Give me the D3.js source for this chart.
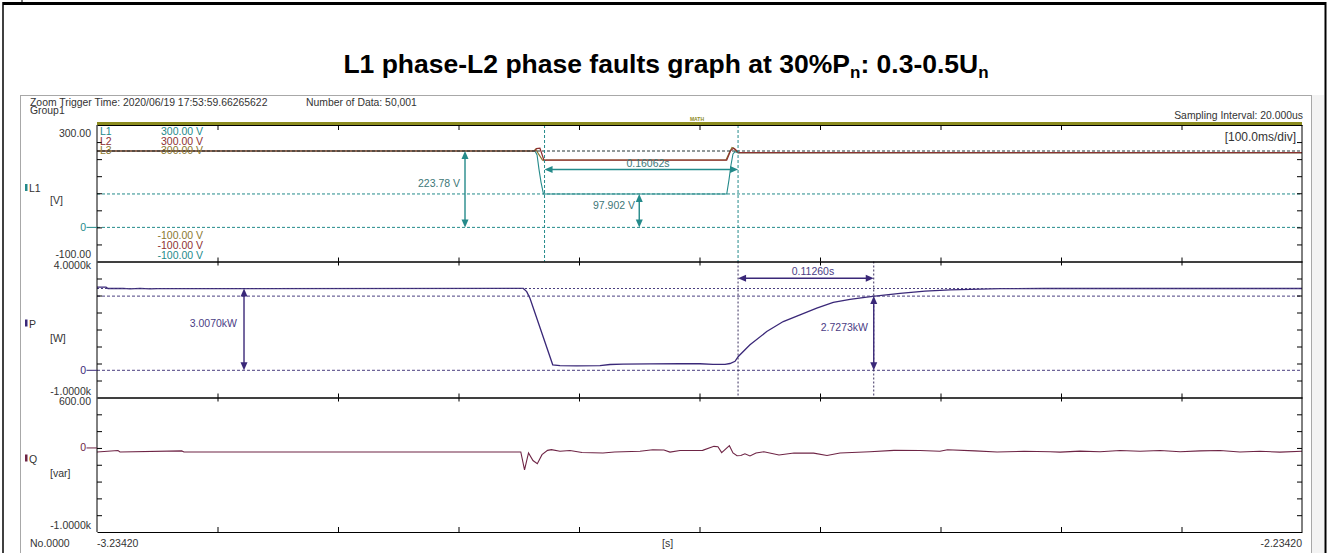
<!DOCTYPE html>
<html><head><meta charset="utf-8">
<script src="https://cdn.jsdelivr.net/npm/d3@7"></script>
<style>
body{margin:0;background:#fff}
svg{display:block}
text{font-family:"Liberation Sans",Arial,sans-serif}
</style>
</head><body>
<svg id="c" width="1329" height="553"></svg>
<script>
// ---------------- data ----------------
const timeRange = [-3.23420, -2.23420];
const xDivTicks = [-3.2342,-3.1342,-3.0342,-2.9342,-2.8342,-2.7342,-2.6342,-2.5342,-2.4342,-2.3342,-2.2342];
const xTickLabels = ["-3.23420", "[s]", "-2.23420"];

const vDomain = [-100, 300];
const pDomain = [-1000, 4000];
const qDomain = [-1000, 600];
const vDivTicks = [-50, 0, 50, 100, 150, 200, 250];
const pDivTicks = [-375, 250, 875, 1500, 2125, 2750, 3375];
const qDivTicks = [-800, -600, -400, -200, 0, 200, 400];
const vLabels = ["300.00", "0", "-100.00"];
const pLabels = ["4.0000k", "0", "-1.0000k"];
const qLabels = ["600.00", "0", "-1.0000k"];

// L1 / L2 / L3 RMS voltage [V]
const l1Time = [-3.2342,-2.8707,-2.8690,-2.8674,-2.8657,-2.8637,-2.7116,-2.7097,-2.7081,-2.7064,-2.7047,-2.7022,-2.2342];
const l1Volt = [223.8,223.8,212,170,132,97.9,97.9,140,182,215,222,219,219];
const l2Time = [-3.2342,-2.8707,-2.8695,-2.8666,-2.8632,-2.8616,-2.7116,-2.7085,-2.7061,-2.7043,-2.7022,-2.2342];
const l2Volt = [223.8,223.8,231,232,196,197,197,224,232,228,219,219];
const l3Time = [-3.2342,-2.8715,-2.8703,-2.8645,-2.8616,-2.7122,-2.7093,-2.7072,-2.7056,-2.7039,-2.7022,-2.2342];
const l3Volt = [223.8,223.8,229,197,197.5,197.5,220,234,232,224,219,219];

// active power P [W]
const pTime = [-3.2342,-3.2267,-3.2251,-3.2126,-3.2068,-3.1985,-3.1902,-3.1844,-2.8804,-2.8776,-2.8749,-2.8560,-2.8500,-2.8361,-2.8168,-2.8085,-2.7977,-2.7753,-2.7504,-2.7338,-2.7230,-2.7130,-2.7089,-2.7047,-2.7020,-2.6923,-2.6784,-2.6647,-2.6508,-2.6369,-2.6232,-2.6093,-2.5954,-2.5886,-2.5678,-2.5471,-2.5263,-2.4848,-2.4475,-2.2342];
const pWatt = [3060,3060,3007,3012,2995,3015,2995,3005,3010,2893,2651,202,170,165,175,213,230,235,240,240,215,220,250,330,510,936,1424,1792,2037,2283,2500,2610,2690,2727,2830,2910,2960,3000,3007,3007];

// reactive power Q [var]
const qTime = [-3.2342,-3.2168,-3.2151,-3.1639,-3.1620,-2.8825,-2.8794,-2.8761,-2.8724,-2.8688,-2.8649,-2.8603,-2.8571,-2.8500,-2.8417,-2.8317,-2.8143,-2.8047,-2.7836,-2.7730,-2.7637,-2.7587,-2.7504,-2.7316,-2.7222,-2.7189,-2.7158,-2.7094,-2.7064,-2.7031,-2.6999,-2.6965,-2.6923,-2.6873,-2.6808,-2.6682,-2.6558,-2.6395,-2.6284,-2.6176,-2.5927,-2.5728,-2.5512,-2.5346,-2.5284,-2.5056,-2.4873,-2.4649,-2.4433,-2.4350,-2.4184,-2.4018,-2.3852,-2.3686,-2.3520,-2.3354,-2.3188,-2.3022,-2.2857,-2.2691,-2.2525,-2.2342];
const qVar = [-48,-30,-48,-35,-48,-48,-260,-60,-150,-188,-80,-29,-20,-40,-30,-55,-60,-48,-40,-21,-25,-50,-30,-29,19,15,-55,27,-60,-93,-90,-70,-95,-60,-45,-84,-60,-62,-90,-60,-45,-29,-30,-40,-21,-35,-48,-40,-45,-50,-38,-45,-30,-40,-30,-45,-35,-30,-48,-40,-50,-40];

// cursors
const vCursorLevels = [223.78, 97.902, 0];
const vCursorTimes = [-2.8628, -2.7022];
const pCursorLevels = [3007, 2727.3, 0];
const pCursorTimes = [-2.7022, -2.5896];

// ---------------- drawing ----------------
const svg = d3.select("#c");
const plotL = 97, plotR = 1302;
const teal = "#248a8a", l2c = "#8e3030", l3c = "#8a7830", pc = "#3a2878", qc = "#6e2445", olive = "#8b8b1e";
const txt = "#333";

const x = d3.scaleLinear().domain(timeRange).range([plotL, plotR]);
const yV = d3.scaleLinear().domain(vDomain).range([261.5, 125]);
const yP = d3.scaleLinear().domain(pDomain).range([397.5, 261.5]);
const yQ = d3.scaleLinear().domain(qDomain).range([532, 397.5]);

// outer frame
svg.append("rect").attr("x",0).attr("y",0).attr("width",1329).attr("height",553).attr("fill","#fff");
svg.append("rect").attr("x",1312).attr("y",95).attr("width",12).attr("height",460).attr("fill","#f3f3f3");
svg.append("line").attr("x1",3).attr("x2",1326).attr("y1",3.5).attr("y2",3.5).attr("stroke","#000").attr("stroke-width",3);
svg.append("line").attr("x1",3).attr("x2",3).attr("y1",2).attr("y2",553).attr("stroke","#000").attr("stroke-width",1.5);
svg.append("line").attr("x1",1325.5).attr("x2",1325.5).attr("y1",2).attr("y2",553).attr("stroke","#000").attr("stroke-width",2);
svg.append("line").attr("x1",22).attr("x2",22).attr("y1",0).attr("y2",2).attr("stroke","#000");
// chart window border
svg.append("rect").attr("x",20.5).attr("y",95.5).attr("width",1291).attr("height",470).attr("fill","none").attr("stroke","#a8a8a8");

// title
const title = svg.append("text").attr("x",666).attr("y",73).attr("text-anchor","middle")
  .attr("font-size",26.5).attr("font-weight","bold").attr("fill","#000");
title.append("tspan").text("L1 phase-L2 phase faults graph at 30%P");
title.append("tspan").attr("font-size",17).attr("dy",5).text("n");
title.append("tspan").attr("dy",-5).text(": 0.3-0.5U");
title.append("tspan").attr("font-size",17).attr("dy",5).text("n");

// header texts
const hdr = (t,xx,yy,anchor) => svg.append("text").attr("x",xx).attr("y",yy).attr("font-size",10.4).attr("fill",txt).attr("text-anchor",anchor||"start").text(t);
hdr("Zoom Trigger Time: 2020/06/19 17:53:59.66265622",30,105.5);
hdr("Group1",30,114);
hdr("Number of Data: 50,001",306,105.5);
hdr("Sampling Interval: 20.000us",1303,119,"end");

// olive bar
svg.append("rect").attr("x",plotL).attr("y",122).attr("width",plotR-plotL).attr("height",3).attr("fill",olive);
svg.append("text").attr("x",697).attr("y",121).attr("font-size",5).attr("font-weight","bold").attr("fill",olive).attr("text-anchor","middle").text("MATH");

// clip
svg.append("clipPath").attr("id","clip").append("rect").attr("x",plotL).attr("y",125).attr("width",plotR-plotL).attr("height",407);
const g = svg.append("g").attr("clip-path","url(#clip)");

// traces
const line = (xs, ys, yScale) => d3.line().x((d,i)=>x(xs[i])).y((d,i)=>yScale(ys[i]))(xs);
g.append("path").attr("d",line(l1Time,l1Volt,yV)).attr("fill","none").attr("stroke",teal).attr("stroke-width",1.1);
g.append("path").attr("d",line(l3Time,l3Volt,yV)).attr("fill","none").attr("stroke",l3c).attr("stroke-width",1.2);
g.append("path").attr("d",line(l2Time,l2Volt,yV)).attr("fill","none").attr("stroke",l2c).attr("stroke-width",1.2);
g.append("path").attr("d",line(pTime,pWatt,yP)).attr("fill","none").attr("stroke",pc).attr("stroke-width",1.3);
g.append("path").attr("d",line(qTime,qVar,yQ)).attr("fill","none").attr("stroke",qc).attr("stroke-width",1.1);

// horizontal cursors (drawn over traces)
const dash = "3,2";
vCursorLevels.forEach(v => g.append("line").attr("x1",plotL).attr("x2",plotR).attr("y1",yV(v)).attr("y2",yV(v))
  .attr("stroke", v===223.78 ? "#243434" : teal).attr("stroke-dasharray",dash).attr("stroke-width",1));
pCursorLevels.forEach((v,i) => g.append("line").attr("x1",plotL).attr("x2",plotR).attr("y1",yP(v)).attr("y2",yP(v))
  .attr("stroke", "#4a3f80").attr("stroke-dasharray", i===0 ? "2,2" : dash).attr("stroke-width",1));

// vertical cursors
svg.append("line").attr("x1",x(vCursorTimes[0])).attr("x2",x(vCursorTimes[0])).attr("y1",125).attr("y2",261.5).attr("stroke",teal).attr("stroke-dasharray",dash);
svg.append("line").attr("x1",x(vCursorTimes[1])).attr("x2",x(vCursorTimes[1])).attr("y1",125).attr("y2",261.5).attr("stroke",teal).attr("stroke-dasharray",dash);
pCursorTimes.forEach(t => svg.append("line").attr("x1",x(t)).attr("x2",x(t)).attr("y1",261.5).attr("y2",397.5).attr("stroke","#3a3060").attr("stroke-dasharray","2,2"));

// arrows
function arrowV(xx, y1, y2, col){
  const a = svg.append("g");
  a.append("line").attr("x1",xx).attr("x2",xx).attr("y1",y1+6).attr("y2",y2-6).attr("stroke",col).attr("stroke-width",1.4);
  a.append("path").attr("d",`M${xx},${y1}L${xx-3.5},${y1+8}L${xx+3.5},${y1+8}Z`).attr("fill",col);
  a.append("path").attr("d",`M${xx},${y2}L${xx-3.5},${y2-8}L${xx+3.5},${y2-8}Z`).attr("fill",col);
}
function arrowH(x1, x2, yy, col){
  const a = svg.append("g");
  a.append("line").attr("x1",x1+6).attr("x2",x2-6).attr("y1",yy).attr("y2",yy).attr("stroke",col).attr("stroke-width",1.4);
  a.append("path").attr("d",`M${x1},${yy}L${x1+8},${yy-3.5}L${x1+8},${yy+3.5}Z`).attr("fill",col);
  a.append("path").attr("d",`M${x2},${yy}L${x2-8},${yy-3.5}L${x2-8},${yy+3.5}Z`).attr("fill",col);
}
const ann = (t,xx,yy,col,anchor) => svg.append("text").attr("x",xx).attr("y",yy).attr("font-size",10.5).attr("fill",col).attr("text-anchor",anchor||"end").text(t);

arrowV(x(-2.9288), yV(223.78), yV(0), teal);
ann("223.78 V", 460, 186.5, "#3d7777");
arrowH(x(vCursorTimes[0]), x(vCursorTimes[1]), yV(169.6), teal);
ann("0.16062s", 648, 167, "#3d7777", "middle");
arrowV(x(-2.7842), yV(97.902), yV(0), teal);
ann("97.902 V", 635, 209, "#3d7777");

arrowV(x(-3.1122), yP(3007), yP(0), pc);
ann("3.0070kW", 237, 327, "#4b3d85");
arrowH(x(pCursorTimes[0]), x(pCursorTimes[1]), yP(3385), pc);
ann("0.11260s", 813, 275, "#4b3d85", "middle");
arrowV(x(pCursorTimes[1]), yP(2727.3), yP(0), pc);
ann("2.7273kW", 868, 330.5, "#4b3d85");

// x axes (division ticks) on panel borders
const xb = (yy, dir, size) => {
  const ax = (dir==="down" ? d3.axisBottom(x) : d3.axisTop(x)).tickValues(xDivTicks).tickFormat("").tickSizeInner(size).tickSizeOuter(0);
  const gg = svg.append("g").attr("transform",`translate(0,${yy})`).call(ax);
  gg.select(".domain").attr("stroke","#000");
  gg.selectAll(".tick line").attr("stroke","#000");
};
xb(125, "down", 5);
[261.5, 397.5].forEach(yy => { xb(yy,"down",4); xb(yy,"up",4); });
xb(532, "up", 5);
svg.selectAll(".tick").filter(d => d===timeRange[0] || d===timeRange[1]).remove();

// y axes (division ticks)
const yb = (scale, vals) => {
  const l = svg.append("g").attr("transform",`translate(${plotL},0)`).call(d3.axisRight(scale).tickValues(vals).tickFormat("").tickSizeInner(5).tickSizeOuter(0));
  const r = svg.append("g").attr("transform",`translate(${plotR},0)`).call(d3.axisLeft(scale).tickValues(vals).tickFormat("").tickSizeInner(5).tickSizeOuter(0));
  [l,r].forEach(a => { a.select(".domain").remove(); a.selectAll(".tick line").attr("stroke","#000"); });
};
yb(yV, vDivTicks); yb(yP, pDivTicks); yb(yQ, qDivTicks);
svg.append("line").attr("x1",plotL).attr("x2",plotL).attr("y1",125).attr("y2",532).attr("stroke","#000");
svg.append("line").attr("x1",plotR).attr("x2",plotR).attr("y1",125).attr("y2",532).attr("stroke","#000");

// y labels
const yl = (t,yy,col) => svg.append("text").attr("x",91).attr("y",yy).attr("font-size",10.5).attr("fill",col||txt).attr("text-anchor","end").text(t);
yl(vLabels[0], 136.5); yl(vLabels[2], 257.5);
yl(pLabels[0], 268.5); yl(pLabels[2], 395);
yl(qLabels[0], 404.5); yl(qLabels[2], 529);
const zero = (yy,col) => { yl("0", yy+3.5, col).attr("x",86);
  svg.append("line").attr("x1",86.5).attr("x2",plotL).attr("y1",yy).attr("y2",yy).attr("stroke",col); };
zero(yV(0), teal); zero(yP(0), pc); zero(yQ(0), qc);

// channel names
const ch = (name, unit, yy, col) => {
  svg.append("rect").attr("x",25).attr("y",yy-8).attr("width",2.5).attr("height",7).attr("fill",col);
  svg.append("text").attr("x",29).attr("y",yy).attr("font-size",10.5).attr("fill",txt).text(name);
  svg.append("text").attr("x",50).attr("y",yy+(name==="L1"?12:14)).attr("font-size",10.5).attr("fill",txt).text(unit);
};
ch("L1","[V]",192,teal); ch("P","[W]",327.5,pc); ch("Q","[var]",462.5,qc);

// L-legend inside panel 1
const lg = (t,xx,yy,col,anchor) => svg.append("text").attr("x",xx).attr("y",yy).attr("font-size",10.5).attr("fill",col).attr("text-anchor",anchor||"start").text(t);
lg("L1",100,135,teal); lg("L2",100,144.5,l2c); lg("L3",100,154,l3c);
lg("300.00 V",203,135,teal,"end"); lg("300.00 V",203,144.5,l2c,"end"); lg("300.00 V",203,154,l3c,"end");
lg("-100.00 V",203,238.5,l3c,"end"); lg("-100.00 V",203,248.5,l2c,"end"); lg("-100.00 V",203,259,teal,"end");
svg.append("text").attr("x",1296).attr("y",141).attr("font-size",12).attr("fill",txt).attr("text-anchor","end").text("[100.0ms/div]");

// bottom labels
const bl = (t,xx,anchor) => svg.append("text").attr("x",xx).attr("y",547).attr("font-size",10.5).attr("fill",txt).attr("text-anchor",anchor).text(t);
bl("No.0000",30,"start");
bl(xTickLabels[0], x(timeRange[0]), "start");
bl(xTickLabels[1], 662, "start");
bl(xTickLabels[2], x(timeRange[1]), "end");
</script>
</body></html>
